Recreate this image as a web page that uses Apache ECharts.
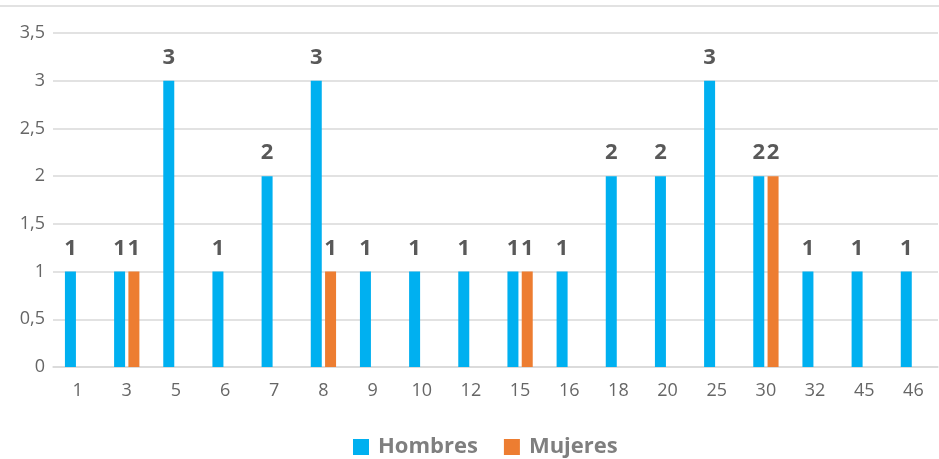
<!DOCTYPE html>
<html><head><meta charset="utf-8">
<style>html,body{margin:0;padding:0;background:#fff}#c{width:939px;height:459px}</style>
<script src="https://cdn.jsdelivr.net/npm/echarts@6/dist/echarts.min.js"></script>
</head><body><div id="c"></div>
<script>
const categories = ['1','3','5','6','7','8','9','10','12','15','16','18','20','25','30','32','45','46'];
const hombres = [1,1,3,1,2,3,1,1,1,1,1,2,2,3,2,1,1,1];
const mujeres = [null,1,null,null,null,1,null,null,null,1,null,null,null,null,2,null,null,null];
const yTicks = {min:0, max:3.5, interval:0.5};

const chart = echarts.init(document.getElementById('c'), null, {renderer:'canvas'});
const lbl = {show:true, position:'top', distance:12, color:'#595959', fontWeight:'bold', fontSize:22, fontFamily:'Open Sans'};
chart.setOption({
  animation:false,
  textStyle:{fontFamily:'Open Sans'},
  grid:{left:53, right:1, top:33, bottom:92},
  graphic:[{type:'line', shape:{x1:0,y1:6,x2:939,y2:6}, style:{stroke:'#d9d9d9', lineWidth:1.5}}],
  legend:{top:431, left:348, itemWidth:16, itemHeight:16, itemGap:26, icon:'rect',
    textStyle:{color:'#7f7f7f', fontSize:22, fontWeight:'bold', fontFamily:'Open Sans', padding:[0,0,0,4]},
    data:['Hombres','Mujeres']},
  xAxis:{type:'category', data:categories,
    axisLine:{show:true, lineStyle:{color:'#d9d9d9', width:1.5}},
    axisTick:{show:false},
    axisLabel:{color:'#666666', fontSize:18, margin:15}},
  yAxis:{type:'value', min:yTicks.min, max:yTicks.max, interval:yTicks.interval,
    axisLine:{show:false}, axisTick:{show:false},
    splitLine:{lineStyle:{color:'#d9d9d9', width:1.5}},
    axisLabel:{color:'#666666', fontSize:18, margin:8, formatter:v=>String(v).replace('.',',')}},
  series:[
    {name:'Hombres', type:'bar', data:hombres, barWidth:11, barGap:'30%', itemStyle:{color:'#00B0F0'}, label:lbl},
    {name:'Mujeres', type:'bar', data:mujeres, barWidth:11, itemStyle:{color:'#ED7D31'}, label:lbl}
  ]
});
</script></body></html>
